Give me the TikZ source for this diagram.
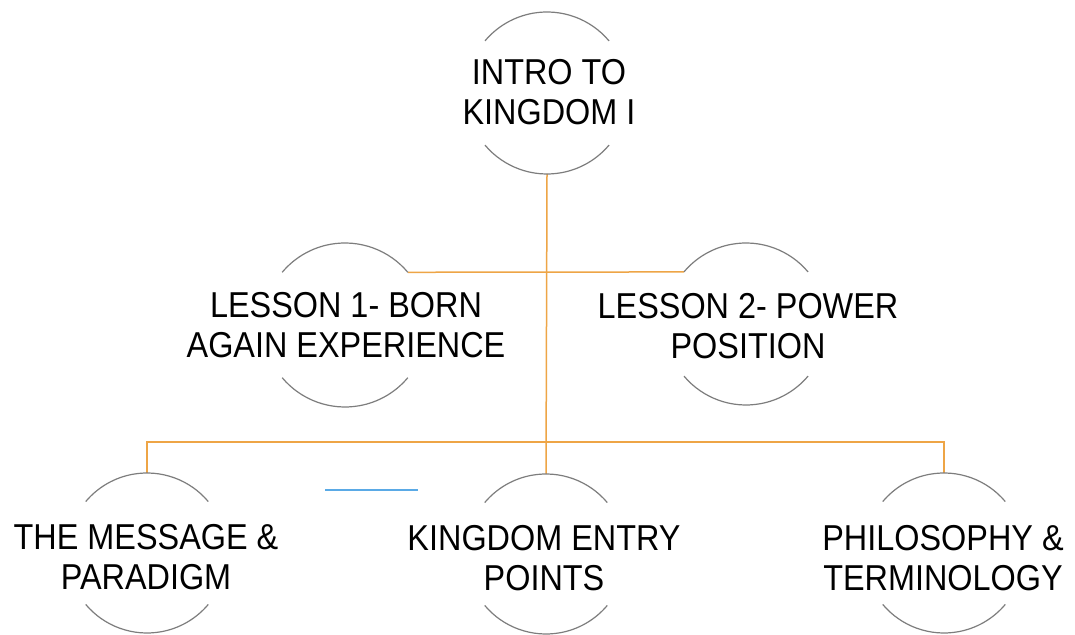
\documentclass[tikz,border=0pt]{standalone}
\usepackage{fontspec}
\setmainfont{Liberation Sans}[FakeStretch=0.9]
\usetikzlibrary{calc}
\definecolor{conn}{RGB}{238,165,70}
\definecolor{ring}{RGB}{125,125,125}
\definecolor{smudge}{RGB}{90,170,230}
\newcommand\ringat[2]{%
  \draw[ringarc] ($(#1)+(40:#2)$) arc[start angle=40,end angle=140,radius=#2];
  \draw[ringarc] ($(#1)+(220:#2)$) arc[start angle=220,end angle=320,radius=#2];}
\begin{document}
\begin{tikzpicture}[x=1pt,y=1pt,
  lbl/.style={align=center,inner sep=0pt,font=\fontsize{36}{40}\selectfont,text=black},
  ringarc/.style={draw=ring,line width=1.2pt},
  link/.style={draw=conn,line width=1.5pt}]
\fill[white] (0,0) rectangle (1075,634);
\useasboundingbox (0,0) rectangle (1075,634);

% circle centres
\coordinate (cI) at (547,541);
\coordinate (c1) at (345,309);
\coordinate (c2) at (746,310);
\coordinate (cM) at (147,81);
\coordinate (cK) at (546,80);
\coordinate (cP) at (944,81);

% connector end points on the rings
\coordinate (iB) at ($(cI)+(0,-81)$);
\coordinate (kT) at ($(cK)+(0,80)$);
\coordinate (l1R) at ($(c1)+(40:82)$);
\coordinate (l2L) at ($(c2)+(140:81)$);
\coordinate (mT) at ($(cM)+(0,80)$);
\coordinate (pT) at ($(cP)+(0,80)$);
\coordinate (bus) at (546,192);

% connectors
\draw[link] (iB) -- (kT);
\draw[link] (l1R) -- (l2L);
\draw[link] (mT) |- (bus) -| (pT);

% faint stray mark
\coordinate (sA) at (325,144);
\coordinate (sB) at (418,144);
\draw[smudge,line width=1.2pt] (sA) -- (sB);

% rings
\ringat{cI}{81}
\ringat{c1}{82}
\ringat{c2}{81}
\ringat{cM}{80}
\ringat{cK}{80}
\ringat{cP}{80}

% labels
\node[lbl] (intro) at (549,541.5) {INTRO TO\\KINGDOM I};
\node[lbl] (les1) at (346,309) {LESSON 1- BORN\\AGAIN EXPERIENCE};
\node[lbl] (les2) at (748,307.5) {LESSON 2- POWER\\POSITION};
\node[lbl] (msg) at (146,76.5) {THE MESSAGE \&\\PARADIGM};
\node[lbl] (king) at (544,75.5) {KINGDOM ENTRY\\POINTS};
\node[lbl] (phil) at (943,76) {PHILOSOPHY \&\\TERMINOLOGY};
\end{tikzpicture}
\end{document}
